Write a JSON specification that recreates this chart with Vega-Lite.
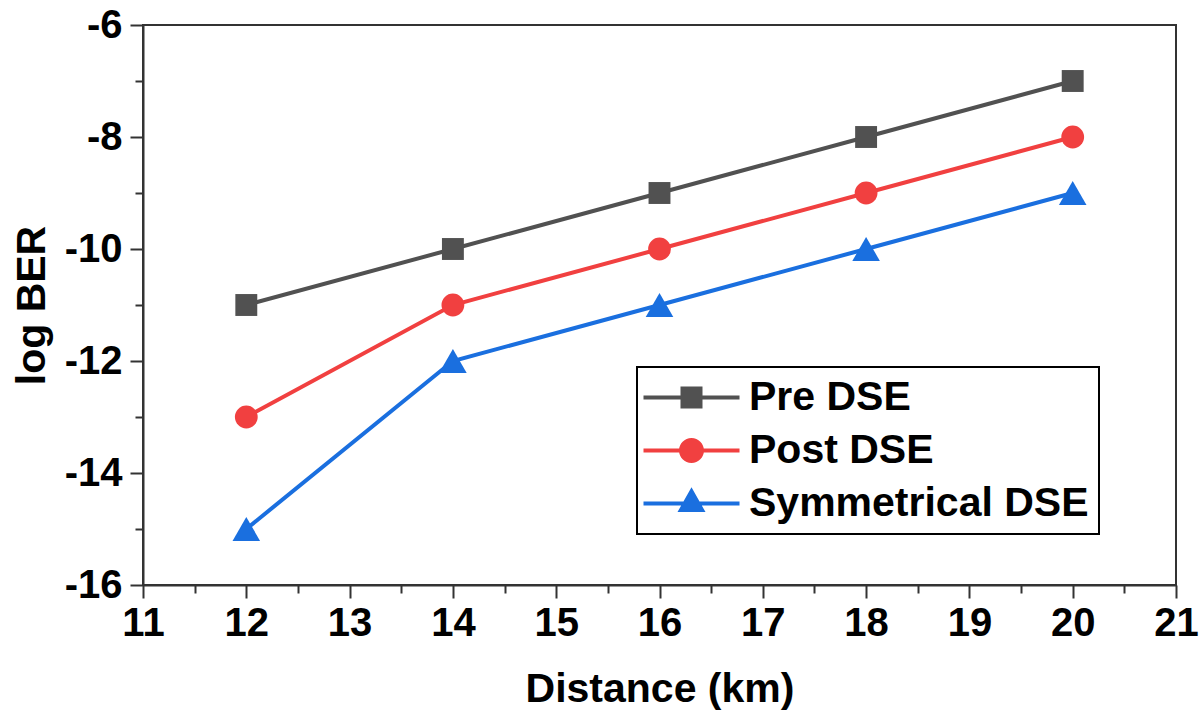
{
  "$schema": "https://vega.github.io/schema/vega-lite/v6.json",
  "width": 1033,
  "height": 560,
  "autosize": "none",
  "padding": {"left": 143, "top": 25, "right": 25, "bottom": 132},
  "background": "white",
  "config": {
    "font": "Liberation Sans",
    "view": {"stroke": "#333333", "strokeWidth": 2}
  },
  "data": {
    "values": [
      {"d": 12, "ber": -11, "s": "Pre DSE"},
      {"d": 14, "ber": -10, "s": "Pre DSE"},
      {"d": 16, "ber": -9, "s": "Pre DSE"},
      {"d": 18, "ber": -8, "s": "Pre DSE"},
      {"d": 20, "ber": -7, "s": "Pre DSE"},
      {"d": 12, "ber": -13, "s": "Post DSE"},
      {"d": 14, "ber": -11, "s": "Post DSE"},
      {"d": 16, "ber": -10, "s": "Post DSE"},
      {"d": 18, "ber": -9, "s": "Post DSE"},
      {"d": 20, "ber": -8, "s": "Post DSE"},
      {"d": 12, "ber": -15, "s": "Symmetrical DSE"},
      {"d": 14, "ber": -12, "s": "Symmetrical DSE"},
      {"d": 16, "ber": -11, "s": "Symmetrical DSE"},
      {"d": 18, "ber": -10, "s": "Symmetrical DSE"},
      {"d": 20, "ber": -9, "s": "Symmetrical DSE"}
    ]
  },
  "encoding": {
    "x": {
      "field": "d", "type": "quantitative",
      "scale": {"domain": [11, 21], "nice": false, "zero": false},
      "axis": {
        "title": "Distance (km)",
        "values": [11, 11.5, 12, 12.5, 13, 13.5, 14, 14.5, 15, 15.5, 16, 16.5, 17, 17.5, 18, 18.5, 19, 19.5, 20, 20.5, 21],
        "labelExpr": "datum.value % 1 !== 0 ? '' : '' + datum.value",
        "grid": false,
        "domainColor": "#333333", "domainWidth": 2,
        "tickColor": "#333333", "tickWidth": 2,
        "tickSize": {"condition": {"test": "datum.value % 1 !== 0", "value": 8}, "value": 13},
        "labelFont": "Liberation Sans", "labelFontWeight": "bold", "labelFontSize": 40, "labelColor": "black",
        "labelPadding": 5, "labelFlush": false, "labelOverlap": false,
        "titleFont": "Liberation Sans", "titleFontWeight": "bold", "titleFontSize": 41, "titleColor": "black",
        "titlePadding": 26
      }
    },
    "y": {
      "field": "ber", "type": "quantitative",
      "scale": {"domain": [-16, -6], "nice": false, "zero": false},
      "axis": {
        "title": "log BER",
        "values": [-16, -15, -14, -13, -12, -11, -10, -9, -8, -7, -6],
        "labelExpr": "datum.value % 2 !== 0 ? '' : '' + datum.value",
        "grid": false,
        "domainColor": "#333333", "domainWidth": 2,
        "tickColor": "#333333", "tickWidth": 2,
        "tickSize": {"condition": {"test": "datum.value % 2 !== 0", "value": 8}, "value": 13},
        "labelFont": "Liberation Sans", "labelFontWeight": "bold", "labelFontSize": 40, "labelColor": "black",
        "labelPadding": 8, "labelFlush": false, "labelOverlap": false,
        "titleFont": "Liberation Sans", "titleFontWeight": "bold", "titleFontSize": 41, "titleColor": "black",
        "titlePadding": 11
      }
    },
    "color": {
      "field": "s", "type": "nominal",
      "scale": {"domain": ["Pre DSE", "Post DSE", "Symmetrical DSE"], "range": ["#515151", "#F14040", "#1A6FDF"]},
      "legend": {
        "title": null,
        "orient": "none",
        "legendX": 494,
        "legendY": 342,
        "strokeColor": "black",
        "fillColor": "white",
        "padding": 10,
        "rowPadding": 11,
        "symbolSize": 1444,
        "symbolStrokeWidth": 0,
        "symbolType": "M-1.263,-0.105H3.79V0.105H-1.263Z",
        "labelFont": "Liberation Sans",
        "labelFontWeight": "bold",
        "labelFontSize": 41,
        "labelColor": "black",
        "labelOffset": 61,
        "labelLimit": 500,
        "encoding": {
          "legend": {"strokeWidth": {"value": 2}},
          "symbols": {
            "shape": {"value": {"expr": "datum.value === 'Pre DSE' ? 'M-1.263,-0.105H3.79V0.105H-1.263Z M0.684,-0.579H1.842V0.579H0.684Z' : datum.value === 'Post DSE' ? 'M-1.263,-0.105H3.79V0.105H-1.263Z M1.921,0A0.658,0.658 0 1,1 0.605,0A0.658,0.658 0 1,1 1.921,0Z' : 'M-1.263,-0.105H3.79V0.105H-1.263Z M1.263,-0.85L2.0,0.45H0.526Z'"}},
            "fill": {"value": {"expr": "scale('color', datum.value)"}},
            "opacity": {"value": 1},
            "fillOpacity": {"value": 1},
            "strokeWidth": {"value": 0}
          }
        }
      }
    }
  },
  "layer": [
    {
      "mark": {"type": "line", "strokeWidth": 4},
      "encoding": {
        "detail": {"field": "s"}
      }
    },
    {
      "transform": [{"filter": "datum.s === 'Pre DSE'"}],
      "mark": {"type": "point", "filled": true, "opacity": 1, "shape": "square", "size": 480}
    },
    {
      "transform": [{"filter": "datum.s === 'Post DSE'"}],
      "mark": {"type": "point", "filled": true, "opacity": 1, "shape": "circle", "size": 520}
    },
    {
      "transform": [{"filter": "datum.s === 'Symmetrical DSE'"}],
      "mark": {"type": "point", "filled": true, "opacity": 1, "shape": "triangle-up", "size": 760}
    }
  ]
}
